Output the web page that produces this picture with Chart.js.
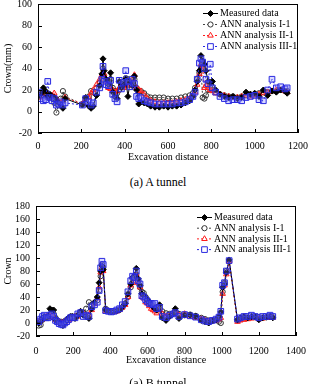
<!DOCTYPE html>
<html>
<head>
<meta charset="utf-8">
<script src="https://cdn.jsdelivr.net/npm/chart.js@4.4.0/dist/chart.umd.min.js"></script>
<style>
body { margin: 0; background: #fff; width: 316px; height: 384px; overflow: hidden; position: relative; font-family: "Liberation Serif", serif; }
.box { position: absolute; left: 0; width: 316px; }
.cap { position: absolute; left: 0; width: 316px; text-align: center; font-size: 12px; color: #000; }
</style>
</head>
<body>
<div class="box" style="top:-7px;height:177px"><canvas id="chartA"></canvas></div>
<div class="cap" style="top:175px">(a) A tunnel</div>
<div class="box" style="top:190px;height:194px"><canvas id="chartB"></canvas></div>
<div class="cap" style="top:376px">(a) B tunnel</div>
<script>
var seriesNames = ['Measured data', 'ANN analysis I-1', 'ANN analysis II-1', 'ANN analysis III-1'];

// A tunnel
var aDist = [5,15,25,35,45,55,65,75,85,95,
    105,115,125,205,220,235,245,255,270,285,
    295,300,305,315,325,335,345,355,365,375,
    385,395,405,415,425,435,445,455,465,475,
    490,505,520,540,560,580,600,620,640,660,
    680,700,715,725,735,745,752,760,768,775,
    785,795,805,820,840,860,880,900,920,940,
    960,980,1000,1020,1040,1060,1080,1100,1120,1140,
    1150];
var aMeasured = [15,17,22,19,14,16,12,13,10,8,
    6,3,12,6,13,5,3,5,15,24,
    35,49,38,30,25,36,18,14,12,28,
    22,25,30,14,27,24,33,20,7,9,
    8,7,5,4,4,5,4,5,5,6,
    8,10,14,20,28,38,52,47,44,38,
    28,27,28,20,16,14,13,14,12,13,
    18,16,17,14,20,15,19,18,20,19,
    17];
var aAnn1 = [14,15,18,17,16,15,14,8,-1,6,
    12,19,14,7,12,14,19,18,22,27,
    30,40,33,28,27,30,22,19,17,20,
    24,26,31,30,28,27,30,22,19,19,
    17,14,13,13,13,13,12,12,12,13,
    14,15,17,22,30,36,40,13,12,15,
    20,22,20,18,16,15,14,14,13,14,
    15,16,16,17,18,18,19,19,20,19,
    19];
var aAnn2 = [13,16,20,18,13,14,15,17,12,9,
    8,10,13,7,11,13,17,20,25,30,
    34,37,35,28,22,21,20,18,19,22,
    24,22,25,24,25,30,34,22,20,19,
    16,12,10,9,8,8,8,8,9,10,
    11,12,15,18,25,35,44,42,22,24,
    22,20,19,17,16,15,14,13,13,14,
    15,14,15,16,17,18,19,20,20,19,
    18];
var aAnn3 = [18,12,10,11,28,13,10,12,6,7,
    9,6,8,6,12,9,6,8,18,22,
    30,42,28,25,24,29,16,12,9,29,
    21,27,38,28,23,30,26,14,12,13,
    10,9,8,7,7,7,7,7,8,8,
    9,11,14,18,30,45,49,46,40,30,
    26,44,22,18,14,12,10,11,11,10,
    13,14,15,11,10,20,30,22,23,21,
    22];

// B tunnel
var bDist = [15,25,35,45,55,65,75,85,95,105,
    115,125,135,145,155,165,175,185,195,210,
    225,240,255,270,285,300,315,330,340,348,
    355,362,375,390,405,420,435,450,465,480,
    495,510,520,530,540,550,560,570,580,590,
    600,610,620,630,640,650,665,680,700,720,
    740,750,770,800,830,860,890,910,930,950,
    970,985,995,1005,1015,1025,1040,1085,1100,1120,
    1140,1160,1180,1200,1220,1240,1260,1275];
var bMeasured = [0,3,8,10,8,10,22,20,20,5,
    2,0,-2,-4,0,4,8,10,10,7,
    12,18,12,10,7,22,32,40,62,80,
    88,82,20,18,17,18,19,20,25,30,
    45,60,70,73,84,68,58,45,42,38,
    35,32,28,25,22,20,28,8,4,10,
    14,22,7,12,12,10,4,2,0,3,
    5,10,17,55,60,78,97,5,8,10,
    8,10,9,5,8,9,10,8];
var bAnn1 = [-4,-3,5,8,8,9,12,15,14,8,
    4,2,2,1,3,5,7,9,10,10,
    12,14,16,22,32,28,30,35,50,72,
    90,85,22,19,18,18,19,21,24,30,
    40,55,68,70,75,65,55,48,46,40,
    36,32,28,26,25,24,22,18,15,14,
    15,18,14,13,13,11,8,6,4,4,
    5,2,0,48,62,80,95,4,6,8,
    8,9,10,9,8,9,10,9];
var bAnn2 = [2,4,6,8,10,9,12,10,8,5,
    3,1,0,0,2,3,5,6,8,10,
    10,14,15,12,12,20,30,38,55,78,
    86,80,18,17,18,17,18,20,24,28,
    40,58,62,68,75,62,55,40,38,32,
    30,26,22,20,18,15,20,14,10,12,
    15,18,12,14,10,8,6,4,2,3,
    4,6,8,45,58,75,95,2,4,5,
    6,7,8,6,7,8,9,8];
var bAnn3 = [2,6,10,12,8,8,12,14,10,4,
    2,-1,-2,-3,0,2,5,8,9,8,
    14,16,10,12,10,25,28,32,50,85,
    95,90,19,18,17,18,20,22,28,33,
    48,65,72,70,80,65,60,42,40,36,
    33,30,30,28,30,22,24,10,8,12,
    14,16,10,13,11,9,5,3,2,4,
    6,9,18,58,62,80,96,6,8,10,
    10,12,10,8,10,10,12,10];

var tickFont = { family: 'Liberation Serif', size: 10, lineHeight: 1 };

function toPoints(xs, ys) {
    return xs.map(function (x, i) { return { x: x, y: ys[i] }; });
}

function makeDatasets(xs, m, a1, a2, a3) {
    return [{
        label: seriesNames[0], data: toPoints(xs, m), order: 1,
        borderColor: '#000', borderWidth: 1, pointStyle: 'rectRot', pointRadius: 3,
        pointBackgroundColor: '#000', pointBorderColor: '#000', pointBorderWidth: 1
    }, {
        label: seriesNames[1], data: toPoints(xs, a1), order: 3,
        borderColor: '#444', borderWidth: 1, borderDash: [2, 2], pointStyle: 'circle', pointRadius: 2.6,
        pointBackgroundColor: 'rgba(255,255,255,0)', pointBorderColor: '#333', pointBorderWidth: 1
    }, {
        label: seriesNames[2], data: toPoints(xs, a2), order: 2,
        borderColor: '#ff1a1a', borderWidth: 1, borderDash: [2, 2], pointStyle: 'triangle', pointRadius: 3.2,
        pointBackgroundColor: 'rgba(255,120,120,0.25)', pointBorderColor: '#ff1a1a', pointBorderWidth: 1
    }, {
        label: seriesNames[3], data: toPoints(xs, a3), order: 0,
        borderColor: '#2a2ae0', borderWidth: 1, borderDash: [2, 2], pointStyle: 'rect', pointRadius: 4,
        pointBackgroundColor: 'rgba(130,130,255,0.3)', pointBorderColor: '#2a2ae0', pointBorderWidth: 1
    }];
}

// frame box and inward ticks
var framePlugin = {
    id: 'frame',
    afterDraw: function (chart) {
        var ctx = chart.ctx, a = chart.chartArea, sx = chart.scales.x, sy = chart.scales.y;
        ctx.save();
        ctx.strokeStyle = '#000';
        ctx.lineWidth = 1;
        ctx.strokeRect(Math.round(a.left) + 0.5, Math.round(a.top) + 0.5,
            Math.round(a.width) - 1, Math.round(a.height) - 1);
        ctx.beginPath();
        sx.ticks.forEach(function (t) {
            var px = Math.round(sx.getPixelForValue(t.value)) + 0.5;
            ctx.moveTo(px, a.bottom);
            ctx.lineTo(px, a.bottom - 4);
        });
        sy.ticks.forEach(function (t) {
            var py = Math.round(sy.getPixelForValue(t.value)) + 0.5;
            ctx.moveTo(a.left, py);
            ctx.lineTo(a.left + 4, py);
        });
        ctx.stroke();
        ctx.restore();
    }
};

// legend with line + marker samples
var lineLegend = {
    id: 'lineLegend',
    afterDraw: function (chart, args, opts) {
        var ctx = chart.ctx;
        chart.data.datasets.forEach(function (ds, i) {
            var y = opts.y + i * opts.dy;
            ctx.save();
            ctx.strokeStyle = ds.borderColor;
            ctx.lineWidth = 1;
            ctx.setLineDash(ds.borderDash || []);
            ctx.beginPath();
            ctx.moveTo(opts.x, y + 0.5);
            ctx.lineTo(opts.x + opts.w, y + 0.5);
            ctx.stroke();
            ctx.setLineDash([]);
            ctx.fillStyle = i === 0 ? '#000' : '#fff';
            ctx.strokeStyle = ds.pointBorderColor;
            Chart.helpers.drawPoint(ctx, { pointStyle: ds.pointStyle, radius: ds.pointRadius, borderWidth: 1 },
                opts.x + opts.w / 2, y + 0.5);
            ctx.fillStyle = '#000';
            ctx.font = '10px "Liberation Serif"';
            ctx.textBaseline = 'middle';
            ctx.fillText(ds.label, opts.x + opts.w + 2, y + 0.5);
            ctx.restore();
        });
    }
};

function plainTick(v) { return String(v); }

function makeChart(id, xs, m, a1, a2, a3, cfg) {
    return new Chart(document.getElementById(id).getContext('2d'), {
        type: 'line',
        data: { datasets: makeDatasets(xs, m, a1, a2, a3) },
        plugins: [framePlugin, lineLegend],
        options: {
            responsive: true,
            maintainAspectRatio: false,
            animation: false,
            devicePixelRatio: 1,
            layout: { padding: { top: cfg.padTop, right: 13, left: 0, bottom: 0 } },
            plugins: {
                legend: { display: false },
                tooltip: { enabled: false },
                lineLegend: cfg.legend
            },
            scales: {
                x: {
                    type: 'linear', min: 0, max: cfg.xMax,
                    grid: { display: false, drawTicks: false }, border: { display: false },
                    ticks: { stepSize: 200, color: '#000', font: tickFont, padding: cfg.xPad, maxRotation: 0, callback: plainTick },
                    title: { display: true, text: 'Excavation distance', color: '#000',
                        font: { family: 'Liberation Serif', size: 10, lineHeight: 1.2 },
                        padding: { top: 0, bottom: cfg.titleBottom } },
                    afterFit: function (s) { s.height = cfg.xHeight; }
                },
                y: {
                    min: -20, max: cfg.yMax,
                    grid: { display: false, drawTicks: false }, border: { display: false },
                    ticks: { stepSize: 20, color: '#000', font: tickFont, padding: 6, callback: plainTick },
                    title: { display: true, text: cfg.yTitle, color: '#000',
                        font: { family: 'Liberation Serif', size: 10, lineHeight: 1.2 },
                        padding: { top: 2, bottom: 0 } },
                    afterFit: function (s) { s.width = cfg.yWidth; }
                }
            }
        }
    });
}

makeChart('chartA', aDist, aMeasured, aAnn1, aAnn2, aAnn3, {
    xMax: 1200, yMax: 100, yTitle: 'Crown(mm)', padTop: 0, yWidth: 38,
    xHeight: 37, xPad: 8, titleBottom: 7,
    legend: { x: 203, y: 20, dy: 11, w: 15 }
});
makeChart('chartB', bDist, bMeasured, bAnn1, bAnn2, bAnn3, {
    xMax: 1400, yMax: 180, yTitle: 'Crown', padTop: 16, yWidth: 36,
    xHeight: 48, xPad: 10, titleBottom: 18,
    legend: { x: 197, y: 27, dy: 10.7, w: 15 }
});
</script>
</body>
</html>
